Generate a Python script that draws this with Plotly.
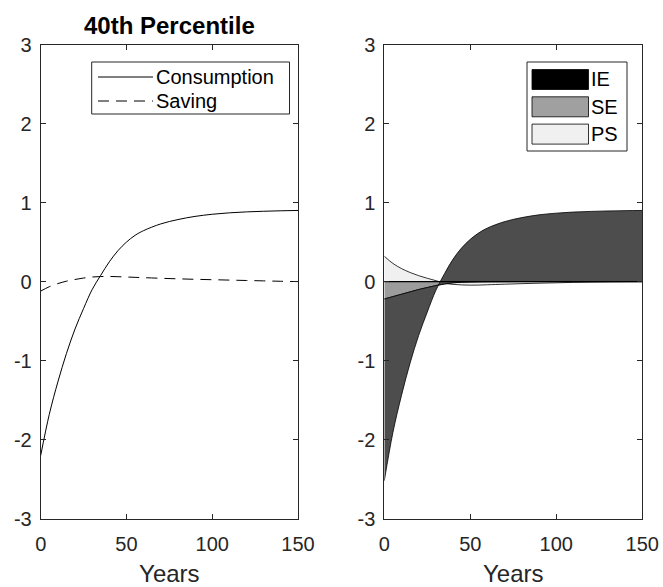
import numpy as np
import plotly.graph_objects as go

# ---------------- data ----------------
years = [0, 5, 10, 15, 20, 25, 30, 35, 40, 45, 50, 55, 60, 70, 80, 90, 100, 110, 120, 130, 140, 150]

consumption = [-2.20, -1.68, -1.27, -0.91, -0.60, -0.34, -0.10, 0.08, 0.25, 0.39, 0.50, 0.585, 0.645,
               0.73, 0.785, 0.825, 0.852, 0.870, 0.882, 0.890, 0.896, 0.90]
saving = [-0.12, -0.065, -0.025, 0.005, 0.027, 0.045, 0.058, 0.064, 0.065, 0.062, 0.058, 0.054, 0.050,
          0.042, 0.035, 0.029, 0.024, 0.019, 0.014, 0.009, 0.004, 0.0]

ie = [-2.30, -1.72, -1.28, -0.90, -0.58, -0.31, -0.06, 0.13, 0.30, 0.435, 0.54, 0.62, 0.68,
      0.76, 0.81, 0.845, 0.866, 0.88, 0.888, 0.894, 0.898, 0.90]
se = [-0.22, -0.19, -0.16, -0.13, -0.10, -0.075, -0.05, -0.03, -0.015, -0.008, -0.005, -0.003, -0.002,
      -0.001, 0.0, 0.0, 0.0, 0.0, 0.0, 0.0, 0.0, 0.0]
ps = [0.32, 0.23, 0.165, 0.115, 0.075, 0.042, 0.012, -0.02, -0.035, -0.042, -0.045, -0.044, -0.040,
      -0.033, -0.026, -0.020, -0.015, -0.010, -0.006, -0.003, -0.001, 0.0]

line_names = ["Consumption", "Saving"]
area_names = ["IE", "SE", "PS"]
title_text = "40th Percentile"
x_label = "Years"
x_ticks = [0, 50, 100, 150]
x_tick_labels = ["0", "50", "100", "150"]
y_ticks = [-3, -2, -1, 0, 1, 2, 3]
y_tick_labels = ["-3", "-2", "-1", "0", "1", "2", "3"]

# ---------------- figure ----------------
W, H = 663, 587
FONT = "Liberation Sans, Arial, sans-serif"
AX = "#262626"

def px(x):
    return x / W

def py(y):
    return 1 - y / H

fig = go.Figure()

# left panel: lines
fig.add_trace(go.Scatter(x=years, y=consumption, mode="lines", name=line_names[0],
                         line=dict(color="black", width=1, shape="spline"),
                         xaxis="x", yaxis="y", showlegend=False))
fig.add_trace(go.Scatter(x=years, y=saving, mode="lines", name=line_names[1],
                         line=dict(color="black", width=1, dash="11px,7px", shape="spline"),
                         xaxis="x", yaxis="y", showlegend=False))

# right panel: decomposition areas
zeros = np.zeros(len(years))
se_arr = np.array(se)
ie_top = se_arr + np.array(ie)

fig.add_trace(go.Scatter(x=years, y=zeros, mode="lines", line=dict(width=0), hoverinfo="skip",
                         xaxis="x2", yaxis="y2", showlegend=False))
fig.add_trace(go.Scatter(x=years, y=ps, mode="lines", name=area_names[2], fill="tonexty",
                         fillcolor="#f0f0f0", line=dict(color="black", width=0.8, shape="spline"),
                         xaxis="x2", yaxis="y2", showlegend=False))
fig.add_trace(go.Scatter(x=years, y=zeros, mode="lines", line=dict(width=0), hoverinfo="skip",
                         xaxis="x2", yaxis="y2", showlegend=False))
fig.add_trace(go.Scatter(x=years, y=se, mode="lines", name=area_names[1], fill="tonexty",
                         fillcolor="#9c9c9c", line=dict(color="black", width=0.8, shape="spline"),
                         xaxis="x2", yaxis="y2", showlegend=False))
fig.add_trace(go.Scatter(x=years, y=se_arr, mode="lines", line=dict(color="black", width=0.8, shape="spline"),
                         hoverinfo="skip", xaxis="x2", yaxis="y2", showlegend=False))
fig.add_trace(go.Scatter(x=years, y=ie_top, mode="lines", name=area_names[0], fill="tonexty",
                         fillcolor="#4d4d4d", line=dict(color="black", width=0.8, shape="spline"),
                         xaxis="x2", yaxis="y2", showlegend=False))
fig.add_trace(go.Scatter(x=years, y=zeros, mode="lines", line=dict(color="black", width=1.2),
                         hoverinfo="skip", xaxis="x2", yaxis="y2", showlegend=False))

axis_common = dict(
    showgrid=False, zeroline=False, showline=True, linecolor=AX, linewidth=1,
    mirror="ticks", ticks="inside", ticklen=5, tickcolor=AX, tickwidth=1,
    tickfont=dict(family=FONT, size=20, color="#262626"), automargin=False,
)

xdom1 = [px(40.7), px(298)]
xdom2 = [px(384.3), px(642.3)]
ydom = [py(518.7), py(44.5)]
xtitle = dict(text=x_label, font=dict(family=FONT, size=24, color="#262626"), standoff=17)

fig.update_layout(
    width=W, height=H, margin=dict(l=0, r=0, t=0, b=0, autoexpand=False),
    paper_bgcolor="white", plot_bgcolor="white",
    xaxis=dict(domain=xdom1, range=[0, 150], tickvals=x_ticks, ticktext=x_tick_labels,
               title=xtitle, anchor="y", ticklabelstandoff=7, **axis_common),
    yaxis=dict(domain=ydom, range=[-3, 3], tickvals=y_ticks, ticktext=y_tick_labels,
               anchor="x", ticklabelstandoff=4, **axis_common),
    xaxis2=dict(domain=xdom2, range=[0, 150], tickvals=x_ticks, ticktext=x_tick_labels,
                title=xtitle, anchor="y2", ticklabelstandoff=7, **axis_common),
    yaxis2=dict(domain=ydom, range=[-3, 3], tickvals=y_ticks, ticktext=y_tick_labels,
                anchor="x2", ticklabelstandoff=4, **axis_common),
)

shapes = []
annotations = []

# title
annotations.append(dict(text="<b>" + title_text + "</b>", x=(xdom1[0] + xdom1[1]) / 2, y=py(25),
                        xref="paper", yref="paper", xanchor="center", yanchor="middle",
                        showarrow=False, font=dict(family=FONT, size=24, color="black")))

# left legend
shapes.append(dict(type="rect", xref="paper", yref="paper", x0=px(91.7), x1=px(289.5), y0=py(62), y1=py(114),
                   line=dict(color=AX, width=1), fillcolor="white"))
for i, (nm, dash) in enumerate(zip(line_names, ["solid", "11px,7px"])):
    yy = 77 + i * 24
    shapes.append(dict(type="line", xref="paper", yref="paper", x0=px(98), x1=px(153), y0=py(yy), y1=py(yy),
                       line=dict(color="black", width=1, dash=dash)))
    annotations.append(dict(text=nm, x=px(154), y=py(yy), xref="paper", yref="paper",
                            xanchor="left", yanchor="middle", showarrow=False,
                            font=dict(family=FONT, size=20, color="black")))

# right legend
shapes.append(dict(type="rect", xref="paper", yref="paper", x0=px(527), x1=px(627), y0=py(62), y1=py(151),
                   line=dict(color=AX, width=1), fillcolor="white"))
for i, (nm, col) in enumerate(zip(area_names, ["#000000", "#a0a0a0", "#f0f0f0"])):
    yc = 79.5 + i * 27.3
    shapes.append(dict(type="rect", xref="paper", yref="paper", x0=px(532), x1=px(588.5),
                       y0=py(yc - 10), y1=py(yc + 10), line=dict(color="black", width=0.8), fillcolor=col))
    annotations.append(dict(text=nm, x=px(589), y=py(yc), xref="paper", yref="paper",
                            xanchor="left", yanchor="middle", showarrow=False,
                            font=dict(family=FONT, size=20, color="black")))

fig.update_layout(shapes=shapes, annotations=annotations)
fig.write_html("out.html", config={"displayModeBar": False},
               post_script="document.body.style.margin='0';document.body.style.overflow='hidden';")
